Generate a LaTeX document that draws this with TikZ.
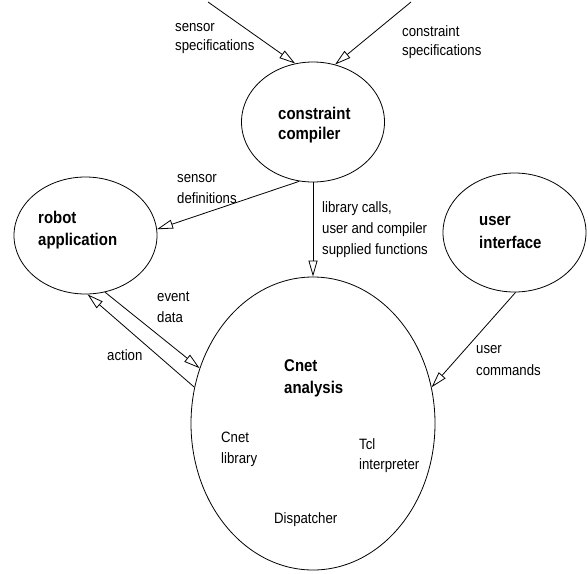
\documentclass[tikz,border=0pt]{standalone}
\usepackage{fontspec}
\setmainfont{Liberation Sans}
\newfontfamily\regf[FakeStretch=0.88]{Liberation Sans}
\usetikzlibrary{shapes.geometric,arrows.meta}
\begin{document}
\begin{tikzpicture}[x=1pt,y=-1pt,
  bub/.style={draw,ellipse,line width=0.8pt,inner sep=0pt},
  lbl/.style={anchor=base west,inner sep=0pt,font=\regf\fontsize{15}{18}\selectfont},
  blbl/.style={anchor=base west,inner sep=0pt,font=\regf\fontsize{17}{20}\selectfont\bfseries},
  flow/.style={draw,line width=0.8pt,-{Triangle[open,length=16pt,width=9pt]}}]
\useasboundingbox (0,0) rectangle (588,573);
% bubbles
\node[bub,minimum width=143pt,minimum height=120pt] (cc) at (313,122) {};
\node[bub,minimum width=143pt,minimum height=117pt] (ra) at (85.5,235.5) {};
\node[bub,minimum width=143pt,minimum height=119pt] (ui) at (514.5,232.5) {};
\node[bub,minimum width=244pt,minimum height=293pt] (cn) at (313,423.5) {};
% bold titles
\node[blbl] (cc1) at (278,119) {constraint};
\node[blbl] (cc2) at (278,139) {compiler};
\node[blbl] (ra1) at (38,223) {robot};
\node[blbl] (ra2) at (38,245) {application};
\node[blbl] (ui1) at (479,225) {user};
\node[blbl] (ui2) at (479,248) {interface};
\node[blbl] (cn1) at (284,371) {Cnet};
\node[blbl] (cn2) at (284,393) {analysis};
% inner labels
\node[lbl] (cl1) at (221,442) {Cnet};
\node[lbl] (cl2) at (221,463) {library};
\node[lbl] (ti1) at (359,449) {Tcl};
\node[lbl] (ti2) at (359,469) {interpreter};
\node[lbl] (dp) at (274,523) {Dispatcher};
% connector labels
\node[lbl] (ss1) at (175,31) {sensor};
\node[lbl] (ss2) at (175,50) {specifications};
\node[lbl] (cs1) at (402,36) {constraint};
\node[lbl] (cs2) at (402,55) {specifications};
\node[lbl] (sd1) at (177,182) {sensor};
\node[lbl] (sd2) at (177,203) {definitions};
\node[lbl] (lc1) at (322,212) {library calls,};
\node[lbl] (lc2) at (322,233) {user and compiler};
\node[lbl] (lc3) at (322,254) {supplied functions};
\node[lbl] (ed1) at (157,301) {event};
\node[lbl] (ed2) at (157,322) {data};
\node[lbl] (ac) at (107,360) {action};
\node[lbl] (uc1) at (476,353) {user};
\node[lbl] (uc2) at (476,375) {commands};
% free ends
\coordinate (ssrc) at (208,2);
\coordinate (csrc) at (411,2);
% connectors
\draw[flow] (ssrc) -- (cc.107);
\draw[flow] (csrc) -- (cc.69.5);
\draw[flow] (cc.257.8) -- (ra.5.3);
\draw[flow] (cc.south) -- (cn.north);
\draw[flow] (ra.-71.6) -- (cn.154.4);
\draw[flow] (cn.163.4) -- (ra.-88);
\draw[flow] (ui.-89) -- (cn.17.2);
\end{tikzpicture}
\end{document}
